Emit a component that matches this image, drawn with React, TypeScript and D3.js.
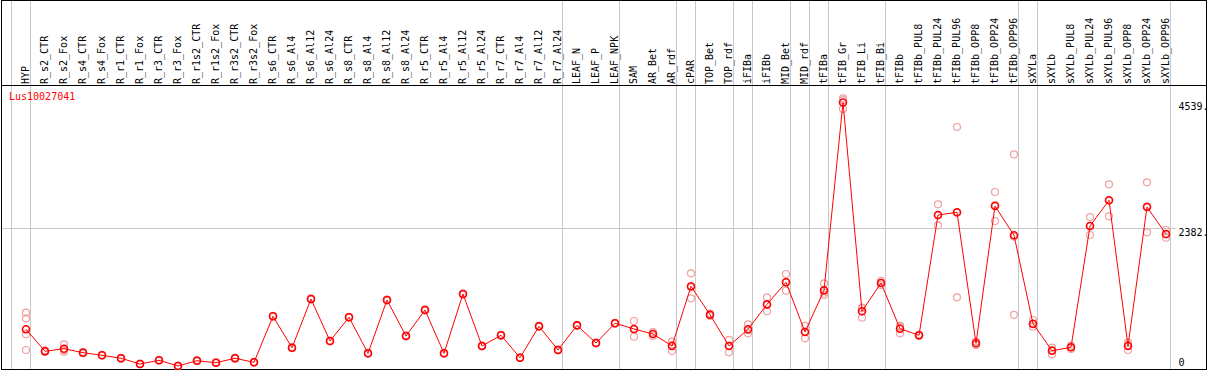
import React from "react";
import * as d3 from "d3";

const categories = [
  "HYP", "R_s2_CTR", "R_s2_Fox", "R_s4_CTR", "R_s4_Fox", "R_r1_CTR", "R_r1_Fox", "R_r3_CTR", "R_r3_Fox",
  "R_r1s2_CTR", "R_r1s2_Fox", "R_r3s2_CTR", "R_r3s2_Fox", "R_s6_CTR", "R_s6_Al4", "R_s6_Al12", "R_s6_Al24",
  "R_s8_CTR", "R_s8_Al4", "R_s8_Al12", "R_s8_Al24", "R_r5_CTR", "R_r5_Al4", "R_r5_Al12", "R_r5_Al24",
  "R_r7_CTR", "R_r7_Al4", "R_r7_Al12", "R_r7_Al24", "LEAF_N", "LEAF_P", "LEAF_NPK", "SAM", "AR_Bet", "AR_rdf",
  "cPAR", "TOP_Bet", "TOP_rdf", "iFIBa", "iFIBb", "MID_Bet", "MID_rdf", "tFIBa", "tFIB_Gr", "tFIB_Li", "tFIB_Bi",
  "tFIBb", "tFIBb_PUL8", "tFIBb_PUL24", "tFIBb_PUL96", "tFIBb_OPP8", "tFIBb_OPP24", "tFIBb_OPP96",
  "sXYLa", "sXYLb", "sXYLb_PUL8", "sXYLb_PUL24", "sXYLb_PUL96", "sXYLb_OPP8", "sXYLb_OPP24", "sXYLb_OPP96",
];

const means = [
  650, 273, 317, 249, 204, 153, 55, 118, 21, 111, 77, 153, 84, 873, 334, 1169, 449, 856, 238, 1152, 535,
  981, 238, 1255, 364, 547, 163, 701, 295, 718, 415, 753, 655, 569, 364, 1387, 900, 364, 650, 1078, 1456,
  604, 1318, 4539, 960, 1444, 660, 547, 2610, 2656, 410, 2764, 2262, 746, 283, 341, 2421, 2862, 364, 2747, 2284,
];

const replicates = [
  [935, 838, 564, 295], [290, 265, 262], [393, 292, 266], [262, 245, 240], [210, 200, 202], [160, 150, 149],
  [60, 52, 53], [125, 115, 114], [28, 18, 17], [120, 108, 105], [82, 75, 74], [165, 148, 146], [92, 80, 80],
  [880, 870, 869], [345, 330, 327], [1180, 1165, 1162], [455, 447, 445], [862, 854, 852], [245, 236, 233],
  [1160, 1150, 1146], [542, 533, 530], [990, 978, 975], [245, 236, 233], [1262, 1253, 1250], [372, 362, 358],
  [555, 545, 541], [170, 161, 158], [708, 699, 696], [302, 293, 290], [725, 716, 713], [422, 413, 410],
  [760, 751, 748], [792, 650, 523], [600, 570, 537], [437, 377, 278], [1610, 1370, 1181], [920, 900, 880],
  [467, 370, 255], [735, 634, 581], [1198, 1078, 958], [1598, 1458, 1312], [707, 610, 495], [1439, 1277, 1238],
  [4611, 4579, 4427], [1010, 1021, 849], [1480, 1444, 1408], [712, 687, 581], [560, 545, 536],
  [2793, 2604, 2433], [4119, 2650, 1199], [440, 410, 380], [3004, 2781, 2507], [3651, 2237, 898],
  [809, 735, 694], [334, 294, 221], [370, 341, 312], [2575, 2421, 2267], [3136, 2862, 2587], [420, 377, 295],
  [3170, 2758, 2313], [2353, 2279, 2220],
];

const groupEnds = [-1, 0, 28, 31, 34, 35, 37, 38, 40, 41, 42, 45, 52, 53, 60];
const yTicks = [4539, 2382, 0];
const gridValues = [2382];
const title = "Lus10027041";

const W = 1209;
const H = 370;
const FONT = "'DejaVu Sans Mono', monospace";

export default function App() {
  const x = d3.scaleLinear().domain([0, categories.length - 1]).range([26, 1166]);
  const y = d3.scaleLinear().domain([0, 4539]).range([367.2, 102.5]);
  const line = d3
    .line<number>()
    .x((_, i) => x(i))
    .y((d) => y(d));

  return (
    <svg
      width={W}
      height={H}
      style={{ position: "absolute", left: 0, top: 0, background: "#fff" }}
      xmlns="http://www.w3.org/2000/svg"
    >
      <rect x={0} y={0} width={W} height={H} fill="#fff" />
      {gridValues.map((v) => (
        <line key={"h" + v} x1={1} x2={1176} y1={Math.round(y(v)) + 0.5} y2={Math.round(y(v)) + 0.5} stroke="#c8c8c8" />
      ))}
      {groupEnds.map((g) => {
        const gx = Math.round(x(g) + 4.3) + 0.5;
        return <line key={"g" + g} x1={gx} x2={gx} y1={0} y2={369} stroke="#c8c8c8" />;
      })}
      <line x1={1} x2={1207} y1={85.5} y2={85.5} stroke="#000" />
      <rect x={1.5} y={0.5} width={1205} height={369} fill="none" stroke="#000" />
      {categories.map((c, i) => (
        <text
          key={c}
          transform={`translate(${x(i) + 3},84) rotate(-90)`}
          fontFamily={FONT}
          fontSize={10}
          fill="#000"
        >
          {c}
        </text>
      ))}
      <text x={9} y={100} fontFamily={FONT} fontSize={10} fill="#ff0000">
        {title}
      </text>
      {replicates.map((reps, i) =>
        reps.map((r, j) => (
          <circle key={`r${i}-${j}`} cx={x(i)} cy={y(r)} r={3.5} fill="none" stroke="#f0a0a0" strokeWidth={1.2} />
        ))
      )}
      <path d={line(means) || ""} fill="none" stroke="#ff0000" strokeWidth={1} />
      {means.map((m, i) => (
        <circle key={"m" + i} cx={x(i)} cy={y(m)} r={3.5} fill="none" stroke="#ff0000" strokeWidth={1.6} />
      ))}
      {yTicks.map((t) => (
        <text
          key={"t" + t}
          x={1178.5}
          y={Math.min(y(t) + 7.5, 365.5)}
          fontFamily={FONT}
          fontSize={10}
          fill="#000"
        >
          {t === 0 ? "0" : `${t}.`}
        </text>
      ))}
    </svg>
  );
}
